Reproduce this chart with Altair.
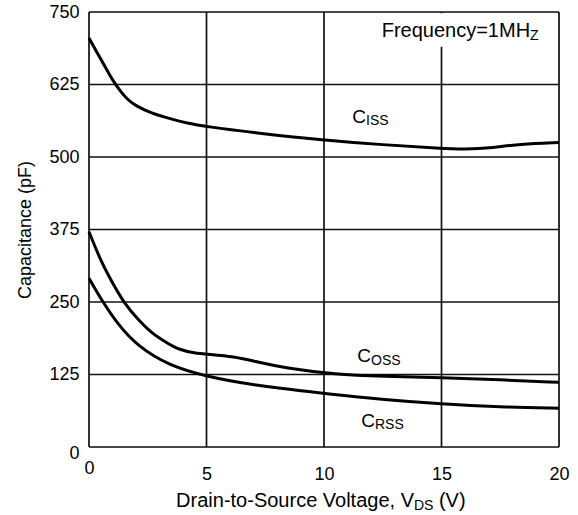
import altair as alt
import pandas as pd

# ---- data ----
v_iss = [0, 0.55, 0.9, 1.1, 1.38, 1.67, 1.96, 2.67, 3.38, 4.09, 5.05, 7.0, 10.0, 12.5, 15.0, 16.0, 17.2, 18.3, 20.0]
c_iss = [705, 665, 640, 627, 611, 598, 589, 575, 567, 559, 552, 542, 529, 521, 515, 513, 516, 522, 525]

v_oss = [0, 0.54, 1.0, 1.53, 2.1, 2.67, 3.3, 3.8, 4.5, 5.05, 6.2, 7.0, 8.34, 10.5, 12.5, 15.0, 17.5, 20.0]
c_oss = [371, 317, 283, 246, 219, 196, 180, 168, 162, 160, 156, 148, 136, 125, 122, 119.5, 116, 111.5]

v_rss = [0, 0.54, 1.25, 2.1, 3.37, 5.05, 6.9, 10.5, 12.5, 15.0, 17.5, 20.0]
c_rss = [291, 253, 210, 173, 141, 121, 107, 90, 82, 74, 69, 67]

x_ticks = [0, 5, 10, 15, 20]
y_ticks = [0, 125, 250, 375, 500, 625, 750]

FONT = "Liberation Sans"

rows = []
for name, vs, cs in [("Ciss", v_iss, c_iss), ("Coss", v_oss, c_oss), ("Crss", v_rss, c_rss)]:
    for v, c in zip(vs, cs):
        rows.append({"series": name, "V": v, "C": c})
df = pd.DataFrame(rows)

xscale = alt.Scale(domain=[0, 20], nice=False, zero=False)
yscale = alt.Scale(domain=[0, 750], nice=False)

# grid lines drawn as rules from the tick arrays
vgrid = alt.Chart(pd.DataFrame({"x": x_ticks, "y": [0] * len(x_ticks), "y2": [750] * len(x_ticks)})).mark_rule(
    color="#111", strokeWidth=1.7
).encode(x=alt.X("x:Q", scale=xscale), y=alt.Y("y:Q", scale=yscale), y2="y2:Q")
hgrid = alt.Chart(pd.DataFrame({"y": y_ticks, "x": [0] * len(y_ticks), "x2": [20] * len(y_ticks)})).mark_rule(
    color="#111", strokeWidth=1.7
).encode(y=alt.Y("y:Q", scale=yscale), x=alt.X("x:Q", scale=xscale), x2="x2:Q")

lines = alt.Chart(df).mark_line(color="black", strokeWidth=3, interpolate="basis").encode(
    x=alt.X("V:Q", scale=xscale,
            axis=alt.Axis(values=x_ticks, title=None, grid=False,
                          domain=False, ticks=False, tickSize=0, labelFont=FONT, labelFontSize=18,
                          labelColor="black", labelFlush=False,
                          labelPadding={"condition": {"test": "datum.value === 0", "value": 12}, "value": 18})),
    y=alt.Y("C:Q", scale=yscale,
            axis=alt.Axis(values=y_ticks, title="Capacitance (pF)", grid=False,
                          domain=False, ticks=False, tickSize=0, labelFont=FONT, labelFontSize=18,
                          labelColor="black", labelPadding=10, labelFlush=False,
                          labelOffset={"condition": {"test": "datum.value === 0", "value": 6}, "value": 0},
                          titleFont=FONT, titleFontSize=18, titleFontWeight="normal",
                          titleColor="black", titlePadding=14)),
    detail="series:N",
)

# white box behind the frequency note
box_df = pd.DataFrame({"x": [12.1], "x2": [19.85], "y": [748], "y2": [690]})
box = alt.Chart(box_df).mark_rect(color="white", opacity=1).encode(
    x=alt.X("x:Q", scale=xscale), x2="x2:Q", y=alt.Y("y:Q", scale=yscale), y2="y2:Q"
)

# annotations: (text, x, y, size, align)
ann = [
    ("C", 11.79, 558.6, 19, "right"), ("ISS", 11.79, 556.0, 14, "left"),
    ("C", 12.0, 146.6, 19, "right"), ("OSS", 12.0, 141.4, 14, "left"),
    ("C", 12.17, 34.5, 19, "right"), ("RSS", 12.17, 31.0, 14, "left"),
    ("Frequency=1MH", 18.77, 706.9, 20, "right"), ("Z", 18.77, 701.7, 14, "left"),
    ("Drain-to-Source Voltage, V", 13.83, -103.4, 20, "right"), ("DS", 13.83, -108.6, 14, "left"),
    ("(V)", 14.89, -103.4, 20, "left"),
]
layers = [vgrid, hgrid, box, lines]
for t, x, y, s, a in ann:
    d = pd.DataFrame({"t": [t], "x": [x], "y": [y]})
    layers.append(
        alt.Chart(d).mark_text(font=FONT, fontSize=s, align=a, baseline="alphabetic", color="black").encode(
            x=alt.X("x:Q", scale=xscale), y=alt.Y("y:Q", scale=yscale), text="t:N"
        )
    )

chart = alt.layer(*layers).properties(
    width=470, height=435,
    autosize=alt.AutoSizeParams(type="none"),
    padding={"left": 89, "top": 12, "right": 19, "bottom": 68},
).configure_view(stroke="black", strokeWidth=2).configure(background="white")

chart.save("out.html", embed_options={"renderer": "svg", "actions": False})
